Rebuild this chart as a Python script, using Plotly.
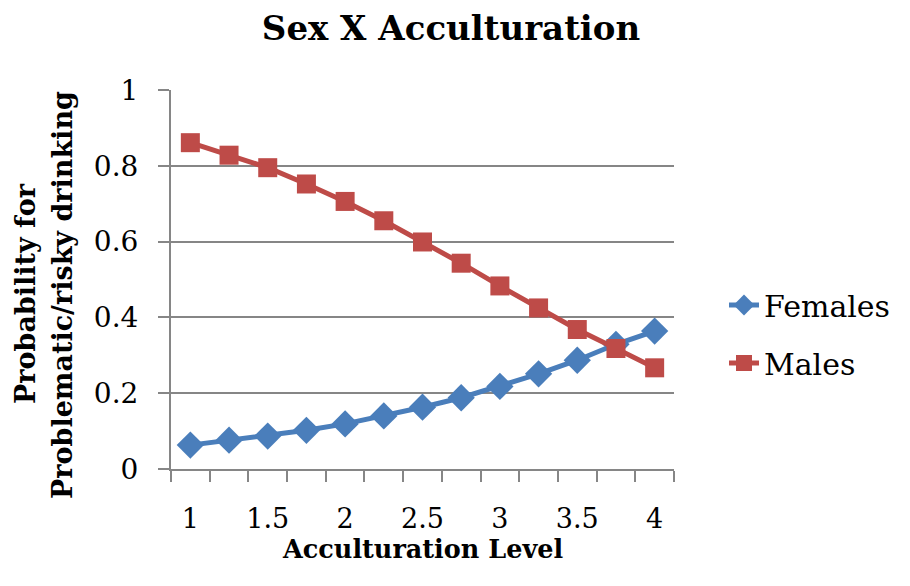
import plotly.graph_objects as go

acculturation = [1.0, 1.25, 1.5, 1.75, 2.0, 2.25, 2.5, 2.75, 3.0, 3.25, 3.5, 3.75, 4.0]
females = [0.063, 0.076, 0.087, 0.102, 0.119, 0.140, 0.163, 0.188, 0.218, 0.251, 0.287, 0.329, 0.364]
males = [0.861, 0.828, 0.795, 0.752, 0.706, 0.655, 0.599, 0.543, 0.483, 0.425, 0.368, 0.318, 0.267]
x_ticks = [1, 1.5, 2, 2.5, 3, 3.5, 4]
x_ticklabels = ["1", "1.5", "2", "2.5", "3", "3.5", "4"]
y_ticks = [0, 0.2, 0.4, 0.6, 0.8, 1]
y_ticklabels = ["0", "0.2", "0.4", "0.6", "0.8", "1"]

FONT = "DejaVu Serif"
GRID = "#868686"

W, H = 902, 578
L, R, T, B = 163, 666, 82, 461   # plot area in figure pixels
PW, PH = R - L, B - T

def px(x):
    return (x - L) / PW

def py(y):
    return (B - y) / PH

fig = go.Figure()
fig.add_trace(go.Scatter(
    x=acculturation, y=females, name="Females", mode="lines+markers",
    line=dict(color="#4a7ebb", width=5),
    marker=dict(symbol="diamond", size=21, color="#4a7ebb"),
    legendgroup="f",
))
fig.add_trace(go.Scatter(
    x=acculturation, y=males, name="Males", mode="lines+markers",
    line=dict(color="#be4b48", width=5),
    marker=dict(symbol="square", size=19, color="#be4b48"),
    legendgroup="m",
))

fig.update_layout(
    width=W, height=H,
    paper_bgcolor="white", plot_bgcolor="white",
    margin=dict(l=L, r=W - R, t=T, b=H - B),
    font=dict(family=FONT, color="black"),
    title=dict(text="<b>Sex X Acculturation</b>", x=443 / W, xanchor="center",
               y=1 - 20 / H, yanchor="middle", font=dict(size=34, family=FONT)),
    showlegend=True,
    legend=dict(x=px(716), xanchor="left", y=py(326), yanchor="middle",
                font=dict(size=30, family=FONT), tracegroupgap=16,
                borderwidth=0, bgcolor="rgba(0,0,0,0)"),
)

fig.update_xaxes(
    range=[0.875, 4.125], tickvals=x_ticks, ticktext=x_ticklabels, ticks="",
    showgrid=False, zeroline=False, showline=True, linecolor=GRID, linewidth=2,
    tickfont=dict(size=27, family=FONT), ticklabelstandoff=25,
    minor=dict(tick0=0.875, dtick=0.25, ticks="outside", ticklen=11,
               tickwidth=2, tickcolor=GRID, showgrid=False),
)
fig.update_yaxes(
    range=[0, 1], tickvals=y_ticks, ticktext=y_ticklabels, ticks="outside",
    ticklen=11, tickwidth=2, tickcolor=GRID,
    showgrid=True, gridcolor=GRID, gridwidth=2, zeroline=False,
    showline=True, linecolor=GRID, linewidth=2,
    tickfont=dict(size=28, family=FONT), ticklabelstandoff=14,
)

fig.add_annotation(
    text="<b>Acculturation Level</b>", xref="paper", yref="paper",
    x=0.5, y=py(541), xanchor="center", yanchor="middle", showarrow=False,
    font=dict(size=25.5, family=FONT),
)
fig.add_annotation(
    text="<b>Probability for</b>", xref="paper", yref="paper",
    x=px(17), y=py(286), xanchor="center", yanchor="middle", textangle=-90,
    showarrow=False, font=dict(size=27, family=FONT),
)
fig.add_annotation(
    text="<b>Problematic/risky drinking</b>", xref="paper", yref="paper",
    x=px(54), y=py(287), xanchor="center", yanchor="middle", textangle=-90,
    showarrow=False, font=dict(size=27, family=FONT),
)

fig.write_html("out.html")
